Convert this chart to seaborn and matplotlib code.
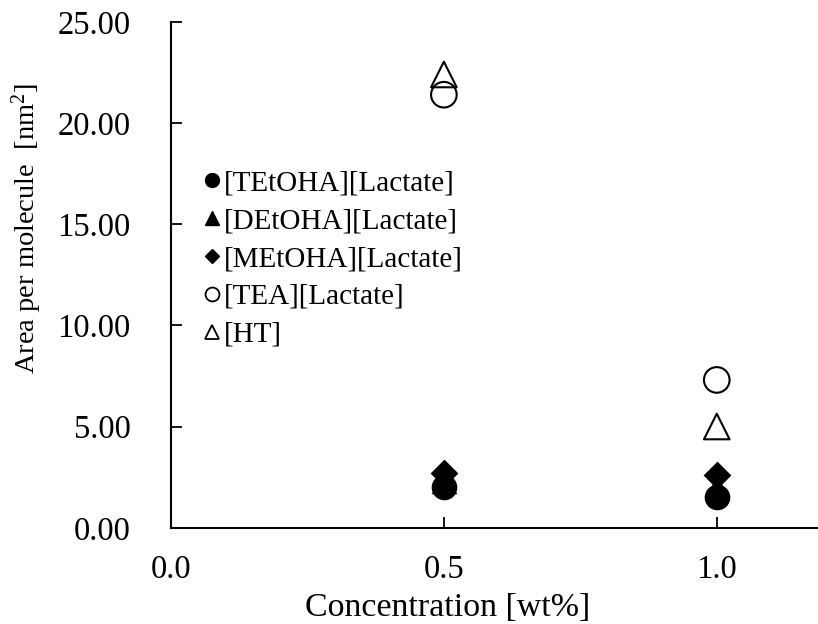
import matplotlib
matplotlib.use("Agg")
import matplotlib.pyplot as plt
import seaborn as sns
import pandas as pd
from matplotlib.lines import Line2D

concentration = [0.5, 1.0]
series_names = ["[TEtOHA][Lactate]", "[DEtOHA][Lactate]", "[MEtOHA][Lactate]", "[TEA][Lactate]", "[HT]"]
tetoha = [2.03, 1.51]
detoha = [2.30, 2.00]
metoha = [2.70, 2.62]
tea = [21.4, 7.31]
ht = [22.4, 5.01]
values = [tetoha, detoha, metoha, tea, ht]
x_ticks = [0.0, 0.5, 1.0]
y_ticks = [0, 5, 10, 15, 20, 25]

markers = ["o", "^", "D", "o", "^"]
filled = [True, True, True, False, False]
sizes = [340, 340, 200, 340, 340]

sns.set_style("white")
plt.rcParams['font.family'] = ['Liberation Serif', 'DejaVu Serif']
plt.rcParams['mathtext.fontset'] = 'custom'
plt.rcParams['mathtext.rm'] = 'Liberation Serif'
plt.rcParams['mathtext.it'] = 'Liberation Serif:italic'
plt.rcParams['text.color'] = 'black'
plt.rcParams['axes.labelcolor'] = 'black'

fig = plt.figure(figsize=(8.18, 6.24), dpi=100)
ax = fig.add_axes([0.209, 0.154, 0.8007, 0.811])

rows = []
for name, vals in zip(series_names, values):
    for c, v in zip(concentration, vals):
        rows.append({"Concentration": c, "Area": v, "Series": name})
df = pd.DataFrame(rows)

order_draw = [3, 4, 1, 2, 0]
for i in order_draw:
    sub = df[df["Series"] == series_names[i]]
    if filled[i]:
        sns.scatterplot(data=sub, x="Concentration", y="Area", marker=markers[i], s=sizes[i],
                        color="black", edgecolor="black", linewidth=0, ax=ax, legend=False, zorder=3)
    else:
        ax.scatter(sub["Concentration"], sub["Area"], marker=markers[i], s=sizes[i],
                   facecolors="none", edgecolors="black", linewidths=1.5, zorder=3)

handles = []
for i, name in enumerate(series_names):
    ms = 10 if markers[i] != "D" else 7.5
    if filled[i]:
        h = Line2D([], [], linestyle="none", marker=markers[i], markersize=ms,
                   markerfacecolor="black", markeredgecolor="black", label=name)
    else:
        h = Line2D([], [], linestyle="none", marker=markers[i], markersize=ms,
                   markerfacecolor="none", markeredgecolor="black", markeredgewidth=1.3, label=name)
    handles.append(h)
leg = ax.legend(handles=handles, loc="upper left", bbox_to_anchor=(0.032, 0.73), frameon=False,
                fontsize=21, handlelength=0.6, handletextpad=0.08, labelspacing=0.39, borderaxespad=0)

ax.set_xlim(0, 1.2)
ax.set_ylim(0, 25)
ax.set_xticks(x_ticks)
ax.set_xticklabels([f"{t:.1f}" for t in x_ticks])
ax.set_yticks(y_ticks)
ax.set_yticklabels([f"{t:.2f}" for t in y_ticks])
ax.tick_params(direction="in", length=8, width=1.3, labelsize=23.5, colors="black",
               bottom=True, left=True)
ax.tick_params(axis="x", pad=19)
ax.tick_params(axis="y", pad=29)
for s in ["top", "right"]:
    ax.spines[s].set_visible(False)
for s in ["left", "bottom"]:
    ax.spines[s].set_color("black")
    ax.spines[s].set_linewidth(1.5)

ax.set_xlabel("Concentration [wt%]", fontsize=24.5)
ax.set_ylabel(r"Area per molecule  [nm$^2$]", fontsize=20.5)
fig.canvas.draw()
# place axis titles as in the reference
ax.xaxis.set_label_coords((448 - 171) / 655, (624 - 607 - 96) / 506, transform=None) if False else None
ax.xaxis.set_label_coords(277 / 655, -80 / 506)
ax.xaxis.label.set_va("center")
ax.yaxis.set_label_coords(-144 / 655, (528 - 229) / 506)
ax.yaxis.label.set_va("center")

fig.savefig("out.png", dpi=100)
